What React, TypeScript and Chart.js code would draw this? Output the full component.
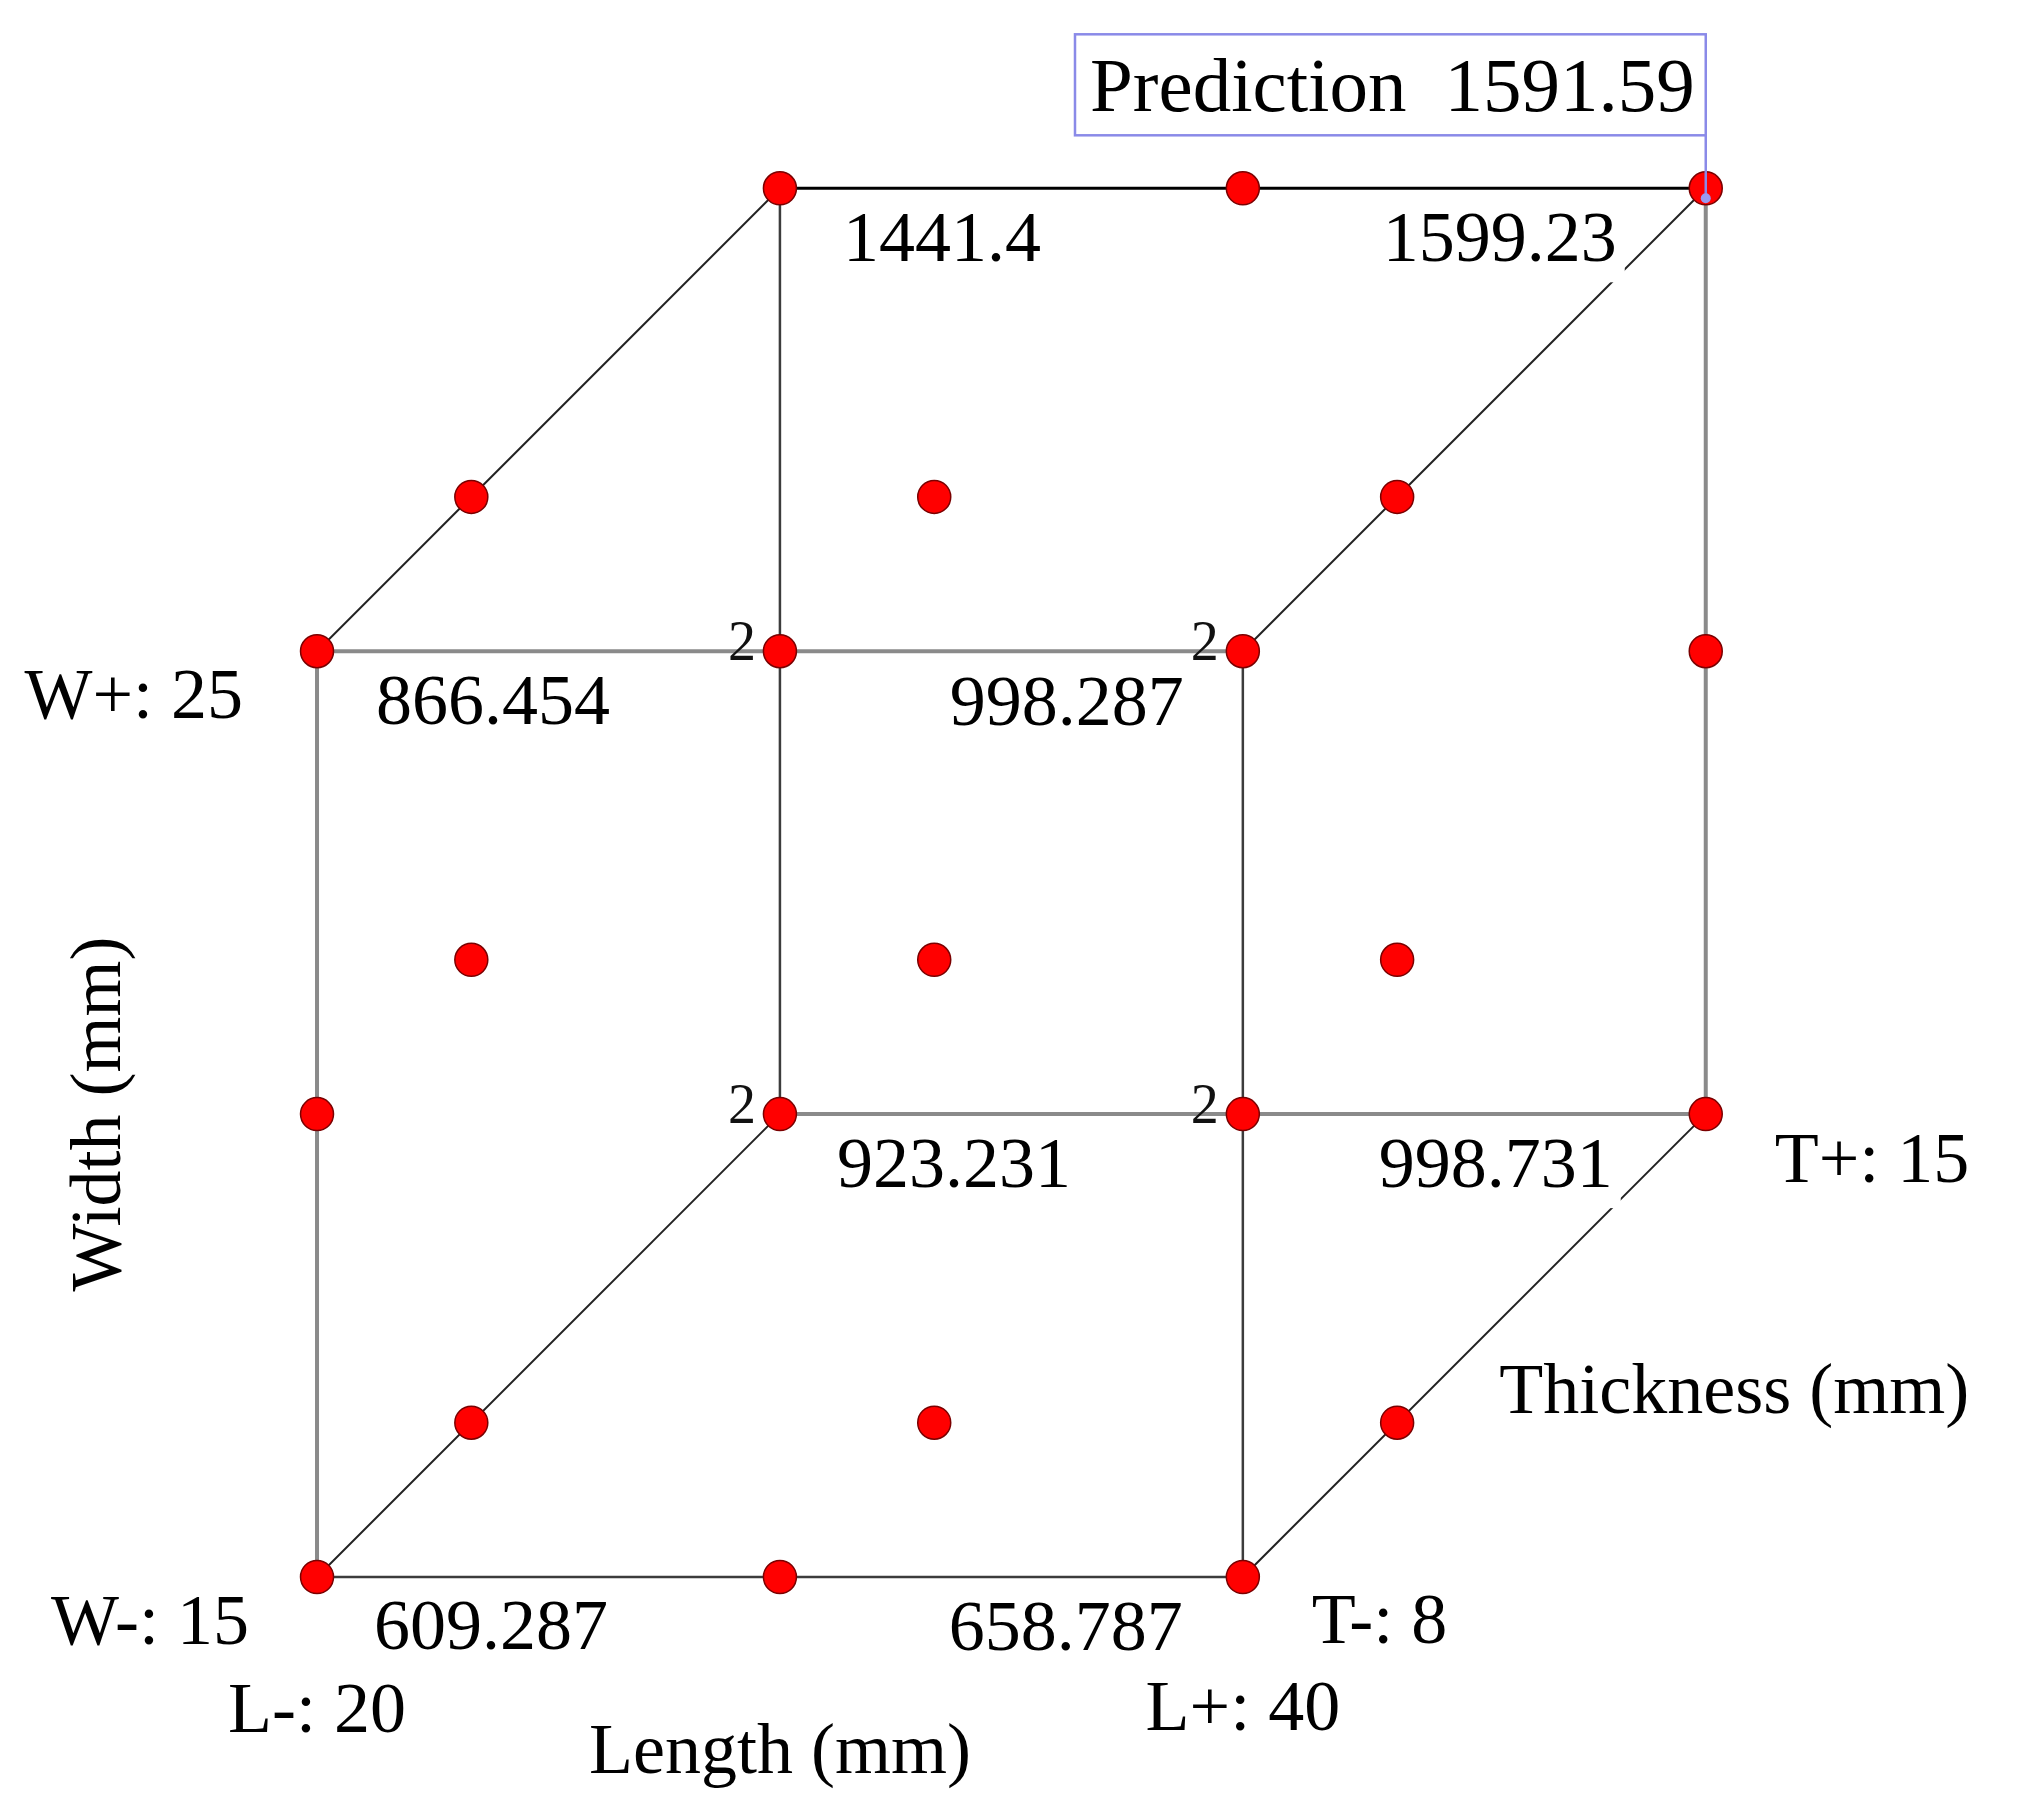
import React, { useEffect, useRef } from 'react';
import { Chart, registerables } from 'chart.js';

Chart.register(...registerables);

const FONT = '"Liberation Serif", "Times New Roman", serif';

// Design points, in projected cube-plot grid units
const pointX = [3, 6, 9, 1, 4, 7, 0, 3, 6, 9, 1, 4, 7, 0, 3, 6, 9, 1, 4, 7, 0, 3, 6];
const pointY = [9, 9, 9, 7, 7, 7, 6, 6, 6, 6, 4, 4, 4, 3, 3, 3, 3, 1, 1, 1, 0, 0, 0];

// Cube corners (front face: 0-3, back face: 4-7)
const cornerX = [0, 6, 0, 6, 3, 9, 3, 9];
const cornerY = [0, 0, 6, 6, 3, 3, 9, 9];
const cornerValues = ['609.287', '658.787', '866.454', '998.287', '923.231', '998.731', '1441.4', '1599.23'];

// Replicate counts
const replicateX = [3, 6, 3, 6];
const replicateY = [6, 6, 3, 3];
const replicateCounts = ['2', '2', '2', '2'];

// Cube edges (corner index pairs) and their line kinds
const edgeFrom = [0, 2, 0, 1, 4, 6, 4, 5, 0, 1, 2, 3];
const edgeTo = [1, 3, 2, 3, 5, 7, 6, 7, 4, 5, 6, 7];
const edgeKind = ['dark', 'gray', 'gray', 'dark', 'gray', 'black', 'dark', 'gray', 'diag', 'diag', 'diag', 'diag'];

// Factor level labels
const factorLabels = ['W+: 25', 'W-: 15', 'L-: 20', 'L+: 40', 'T-: 8', 'T+: 15'];
const factorCorner = [2, 0, 0, 1, 1, 5];

const axisTitles = ['Length (mm)', 'Width (mm)', 'Thickness (mm)'];

const predictionLabel = 'Prediction';
const predictionValue = '1591.59';
const predictionCorner = 7;

// ---- styles ----
const EDGE_STYLE: Record<string, { color: string; width: number }> = {
  dark: { color: '#3c3c3c', width: 2.5 },
  gray: { color: '#8a8a8a', width: 4 },
  black: { color: '#000000', width: 3 },
  diag: { color: '#222222', width: 2 },
};
// value label placement per corner: [align, dx, dy]
const VALUE_PLACE: [CanvasTextAlign, number, number][] = [
  ['left', 57, 72], ['right', -60, 73], ['left', 59, 73], ['right', -59, 74],
  ['left', 57, 73], ['right', -93, 73], ['left', 63, 73], ['right', -89, 73],
];
const FACTOR_PLACE: [CanvasTextAlign, number, number][] = [
  ['right', -74, 67], ['right', -68, 67], ['center', 0, 155],
  ['center', 0, 153], ['left', 69, 66], ['left', 69, 68],
];

const X_MIN = -2.0545;
const X_MAX = 11.069;
const Y_MIN = -1.5295;
const Y_MAX = 10.2204;

const labelPlugin = {
  id: 'cubeLabels',
  afterDatasetsDraw(chart: any) {
    const ctx: CanvasRenderingContext2D = chart.ctx;
    const xs = chart.scales.x;
    const ys = chart.scales.y;
    const px = (v: number) => xs.getPixelForValue(v);
    const py = (v: number) => ys.getPixelForValue(v);
    ctx.save();
    ctx.textBaseline = 'alphabetic';

    // corner response values (with white backing)
    ctx.font = `72px ${FONT}`;
    cornerValues.forEach((txt, i) => {
      const [align, dx, dy] = VALUE_PLACE[i];
      const x = px(cornerX[i]) + dx;
      const y = py(cornerY[i]) + dy;
      const w = ctx.measureText(txt).width;
      const left = align === 'left' ? x : x - w;
      ctx.fillStyle = '#ffffff';
      ctx.fillRect(left - 4, y - 54, w + 12, 75);
      ctx.fillStyle = '#000000';
      ctx.textAlign = 'left';
      ctx.fillText(txt, left, y);
    });

    // replicate counts
    ctx.font = `56px ${FONT}`;
    ctx.textAlign = 'right';
    ctx.fillStyle = '#111111';
    replicateCounts.forEach((txt, i) => {
      ctx.fillText(txt, px(replicateX[i]) - 24, py(replicateY[i]) + 9);
    });

    // factor labels
    ctx.font = `72px ${FONT}`;
    ctx.fillStyle = '#000000';
    factorLabels.forEach((txt, i) => {
      const c = factorCorner[i];
      const [align, dx, dy] = FACTOR_PLACE[i];
      ctx.textAlign = align;
      ctx.fillText(txt, px(cornerX[c]) + dx, py(cornerY[c]) + dy);
    });

    // axis titles
    ctx.textAlign = 'center';
    ctx.fillText(axisTitles[0], (px(cornerX[0]) + px(cornerX[1])) / 2, py(cornerY[0]) + 196);
    ctx.save();
    ctx.translate(px(cornerX[0]) - 197, (py(cornerY[0]) + py(cornerY[2])) / 2);
    ctx.rotate(-Math.PI / 2);
    ctx.textAlign = 'center';
    ctx.fillText(axisTitles[1], 0, 0);
    ctx.restore();
    ctx.textAlign = 'left';
    ctx.fillText(
      axisTitles[2],
      (px(cornerX[1]) + px(cornerX[5])) / 2 + 25,
      (py(cornerY[1]) + py(cornerY[5])) / 2 + 67
    );

    // prediction flag
    const cx = px(cornerX[predictionCorner]);
    const cy = py(cornerY[predictionCorner]);
    ctx.font = `77px ${FONT}`;
    const wLab = ctx.measureText(predictionLabel).width;
    const wVal = ctx.measureText(predictionValue).width;
    const gap = 38;
    const boxW = 15 + wLab + gap + wVal + 11;
    const boxBottom = cy - 53;
    const boxTop = boxBottom - 101;
    const boxLeft = cx - boxW;
    ctx.fillStyle = '#ffffff';
    ctx.fillRect(boxLeft, boxTop, boxW, 101);
    ctx.strokeStyle = '#8a8ae8';
    ctx.lineWidth = 2.5;
    ctx.strokeRect(boxLeft, boxTop, boxW, 101);
    ctx.beginPath();
    ctx.moveTo(cx, boxBottom);
    ctx.lineTo(cx, cy + 10);
    ctx.stroke();
    ctx.fillStyle = '#9a9af0';
    ctx.beginPath();
    ctx.arc(cx, cy + 10, 5, 0, Math.PI * 2);
    ctx.fill();
    ctx.fillStyle = '#000000';
    ctx.textAlign = 'left';
    ctx.fillText(predictionLabel, boxLeft + 15, boxBottom - 24);
    ctx.textAlign = 'right';
    ctx.fillText(predictionValue, cx - 11, boxBottom - 24);

    ctx.restore();
  },
};

export default function App() {
  const ref = useRef<HTMLCanvasElement>(null);

  useEffect(() => {
    const canvas = ref.current;
    if (!canvas) return;

    const edgeSets = edgeFrom.map((a, i) => {
      const b = edgeTo[i];
      const st = EDGE_STYLE[edgeKind[i]];
      return {
        type: 'scatter' as const,
        data: [
          { x: cornerX[a], y: cornerY[a] },
          { x: cornerX[b], y: cornerY[b] },
        ],
        showLine: true,
        borderColor: st.color,
        borderWidth: st.width,
        pointRadius: 0,
        pointHoverRadius: 0,
        order: 2,
        clip: false as any,
      };
    });

    const chart = new Chart(canvas, {
      type: 'scatter',
      data: {
        datasets: [
          {
            data: pointX.map((x, i) => ({ x, y: pointY[i] })),
            pointRadius: 16.5,
            pointHoverRadius: 16.5,
            pointBackgroundColor: '#ff0000',
            pointBorderColor: '#7a0000',
            pointBorderWidth: 1.5,
            showLine: false,
            order: 0,
            clip: false as any,
          },
          ...edgeSets,
        ],
      },
      options: {
        responsive: false,
        animation: false,
        devicePixelRatio: 1,
        events: [],
        layout: { padding: 0, autoPadding: false },
        plugins: { legend: { display: false }, tooltip: { enabled: false } },
        scales: {
          x: { type: 'linear', display: false, min: X_MIN, max: X_MAX, bounds: 'data' },
          y: { type: 'linear', display: false, min: Y_MIN, max: Y_MAX, bounds: 'data' },
        },
      },
      plugins: [labelPlugin],
    });

    return () => chart.destroy();
  }, []);

  return (
    <div style={{ position: 'absolute', left: 0, top: 0, width: 2025, height: 1813, background: '#ffffff' }}>
      <canvas ref={ref} width={2025} height={1813} style={{ display: 'block', width: 2025, height: 1813 }} />
    </div>
  );
}
